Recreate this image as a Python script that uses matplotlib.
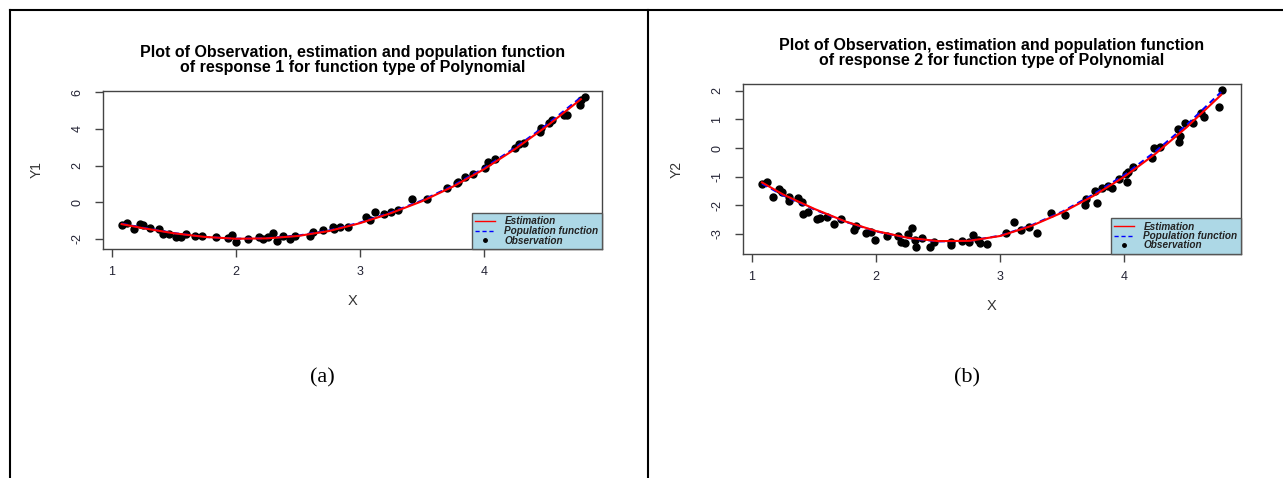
import matplotlib
matplotlib.use("Agg")
import matplotlib.pyplot as plt
from matplotlib.lines import Line2D

plt.rcParams['font.family'] = ['Liberation Sans', 'DejaVu Sans']
plt.rcParams['axes.unicode_minus'] = False

# ---- data ----
# response 1
x_obs1 = [1.08, 1.12, 1.18, 1.23, 1.25, 1.31, 1.38, 1.41, 1.46, 1.52, 1.56, 1.60,
          1.67, 1.73, 1.84, 1.94, 1.97, 2.00, 2.10, 2.19, 2.22, 2.26, 2.30, 2.33,
          2.38, 2.44, 2.48, 2.60, 2.62, 2.70, 2.78, 2.79, 2.84, 2.90, 3.05, 3.08,
          3.12, 3.19, 3.25, 3.31, 3.42, 3.54, 3.70, 3.78, 3.79, 3.85, 3.91, 4.01,
          4.03, 4.09, 4.25, 4.28, 4.32, 4.45, 4.46, 4.52, 4.55, 4.64, 4.67, 4.77,
          4.78, 4.81]
y_obs1 = [-1.25, -1.13, -1.49, -1.20, -1.25, -1.40, -1.49, -1.74, -1.76, -1.89, -1.89, -1.74,
          -1.85, -1.85, -1.89, -1.98, -1.80, -2.20, -2.02, -1.89, -2.02, -1.92, -1.67, -2.13,
          -1.84, -2.02, -1.84, -1.84, -1.65, -1.53, -1.35, -1.49, -1.35, -1.38, -0.83, -0.98,
          -0.53, -0.67, -0.53, -0.44, 0.16, 0.16, 0.75, 1.02, 1.11, 1.38, 1.51, 1.89,
          2.20, 2.33, 2.93, 3.16, 3.23, 3.83, 4.05, 4.32, 4.47, 4.74, 4.78, 5.29,
          5.56, 5.74]
x_fit1 = [1.08, 1.25, 1.5, 1.75, 2.0, 2.25, 2.5, 2.75, 3.0, 3.25, 3.5, 3.75, 4.0, 4.25, 4.5, 4.78]
est1 = [-1.20, -1.42, -1.70, -1.90, -2.00, -1.98, -1.85, -1.58, -1.15, -0.60, 0.05, 0.85, 1.80, 2.90, 4.12, 5.62]
pop1 = [-1.18, -1.40, -1.69, -1.90, -2.00, -1.97, -1.83, -1.55, -1.12, -0.56, 0.09, 0.90, 1.86, 2.97, 4.20, 5.72]

# response 2
x_obs2 = [1.08, 1.12, 1.17, 1.22, 1.24, 1.30, 1.30, 1.37, 1.40, 1.41, 1.45, 1.52,
          1.55, 1.60, 1.66, 1.72, 1.82, 1.84, 1.92, 1.96, 1.99, 2.09, 2.18, 2.20,
          2.23, 2.26, 2.29, 2.31, 2.32, 2.37, 2.43, 2.47, 2.60, 2.60, 2.69, 2.75,
          2.78, 2.82, 2.84, 2.89, 3.05, 3.11, 3.17, 3.23, 3.30, 3.41, 3.52, 3.68,
          3.69, 3.76, 3.78, 3.82, 3.87, 3.90, 3.96, 4.01, 4.02, 4.03, 4.07, 4.22,
          4.24, 4.29, 4.43, 4.44, 4.45, 4.49, 4.55, 4.62, 4.64, 4.76, 4.79]
y_obs2 = [-1.25, -1.17, -1.72, -1.44, -1.52, -1.72, -1.84, -1.75, -1.90, -2.30, -2.22, -2.49,
          -2.43, -2.39, -2.66, -2.48, -2.86, -2.72, -2.98, -2.92, -3.21, -3.06, -3.06, -3.27,
          -3.30, -3.00, -2.78, -3.21, -3.47, -3.15, -3.47, -3.29, -3.29, -3.38, -3.23, -3.29,
          -3.03, -3.21, -3.33, -3.35, -2.98, -2.57, -2.86, -2.74, -2.98, -2.28, -2.34, -1.99,
          -1.79, -1.49, -1.91, -1.40, -1.32, -1.40, -1.09, -0.90, -1.17, -0.82, -0.67, -0.35,
          0.00, 0.03, 0.66, 0.23, 0.43, 0.87, 0.87, 1.22, 1.08, 1.45, 2.03]
x_fit2 = [1.08, 1.25, 1.5, 1.75, 2.0, 2.25, 2.5, 2.75, 3.0, 3.25, 3.5, 3.75, 4.0, 4.25, 4.5, 4.78]
est2 = [-1.20, -1.62, -2.12, -2.56, -2.90, -3.13, -3.25, -3.24, -3.07, -2.72, -2.25, -1.67, -1.00, -0.20, 0.72, 1.86]
pop2 = [-1.24, -1.65, -2.14, -2.57, -2.91, -3.14, -3.26, -3.24, -3.06, -2.70, -2.22, -1.62, -0.94, -0.12, 0.80, 1.96]

titles = ["Plot of Observation, estimation and population function\nof response 1 for function type of Polynomial",
          "Plot of Observation, estimation and population function\nof response 2 for function type of Polynomial"]
ylabels = ["Y1", "Y2"]
yticks = [[-2, 0, 2, 4, 6], [-3, -2, -1, 0, 1, 2]]
xticks = [1, 2, 3, 4]
panel_tags = ["(a)", "(b)"]

W, H = 1283, 478
fig = plt.figure(figsize=(W / 100, H / 100), dpi=100)


def px(x0, y0, x1, y1):
    # pixel box -> figure fraction rect
    return [x0 / W, 1 - y1 / H, (x1 - x0) / W, (y1 - y0) / H]


# table frame
for xs, ys in [([10, W], [10, 10]), ([10, 10], [10, H]), ([648, 648], [10, H])]:
    fig.add_artist(Line2D([v / W for v in xs], [1 - v / H for v in ys],
                          color="black", lw=1.5, transform=fig.transFigure))

boxes = [(103, 91, 602, 249), (743, 84, 1241, 254)]
xlims = [(0.93, 4.95), (0.927, 4.94)]
ylims = [(-2.56, 6.07), (-3.70, 2.24)]
data = [(x_obs1, y_obs1, x_fit1, est1, pop1), (x_obs2, y_obs2, x_fit2, est2, pop2)]
tag_pos = [(322, 378), (967, 378)]
title_y = [60, 53]   # pixel centre of the two-line title

for i in range(2):
    ax = fig.add_axes(px(*boxes[i]))
    xo, yo, xf, ye, yp = data[i]
    ax.plot(xo, yo, "o", color="black", ms=5, zorder=2)
    ax.plot(xf, yp, color="blue", lw=1.5, dashes=(3, 2), zorder=3)
    ax.plot(xf, ye, color="red", lw=1.5, zorder=4)
    ax.set_xlim(*xlims[i])
    ax.set_ylim(*ylims[i])
    ax.set_xticks(xticks)
    ax.set_yticks(yticks[i])
    for s in ax.spines.values():
        s.set_color("#444444")
        s.set_linewidth(1)
    ax.tick_params(length=6, width=1, color="#444444", labelsize=9, labelcolor="#222233")
    ax.tick_params(axis="x", pad=6)
    ax.tick_params(axis="y", pad=8, labelrotation=90)
    for lab in ax.get_yticklabels():
        lab.set_verticalalignment("center")
    ax.set_xlabel("X", fontsize=10.5, color="#333333", labelpad=12)
    ax.set_ylabel(ylabels[i], fontsize=10, color="#333333", labelpad=20)

    cx = (boxes[i][0] + boxes[i][2]) / 2
    fig.text(cx / W, 1 - title_y[i] / H, titles[i], fontsize=11.5, fontweight="bold",
             ha="center", va="center", linespacing=1.02)

    handles = [Line2D([], [], color="red", lw=1),
               Line2D([], [], color="blue", lw=1, dashes=(3, 2)),
               Line2D([], [], color="black", marker="o", ms=2.5, ls="none")]
    leg = ax.legend(handles, ["Estimation", "Population function", "Observation"],
                    loc="lower right", borderaxespad=0, fancybox=False,
                    facecolor="#ADD8E6", edgecolor="#555555", framealpha=1,
                    handlelength=2.0, handletextpad=0.9, labelspacing=-0.05,
                    borderpad=0.35, prop={"size": 7.2, "style": "italic", "weight": "bold"})
    leg.get_frame().set_linewidth(1)
    for t in leg.get_texts():
        t.set_color("#222222")

    fig.text(tag_pos[i][0] / W, 1 - tag_pos[i][1] / H, panel_tags[i],
             family="Liberation Serif", fontsize=16, ha="center", va="center")

fig.savefig("out.png", dpi=100)
